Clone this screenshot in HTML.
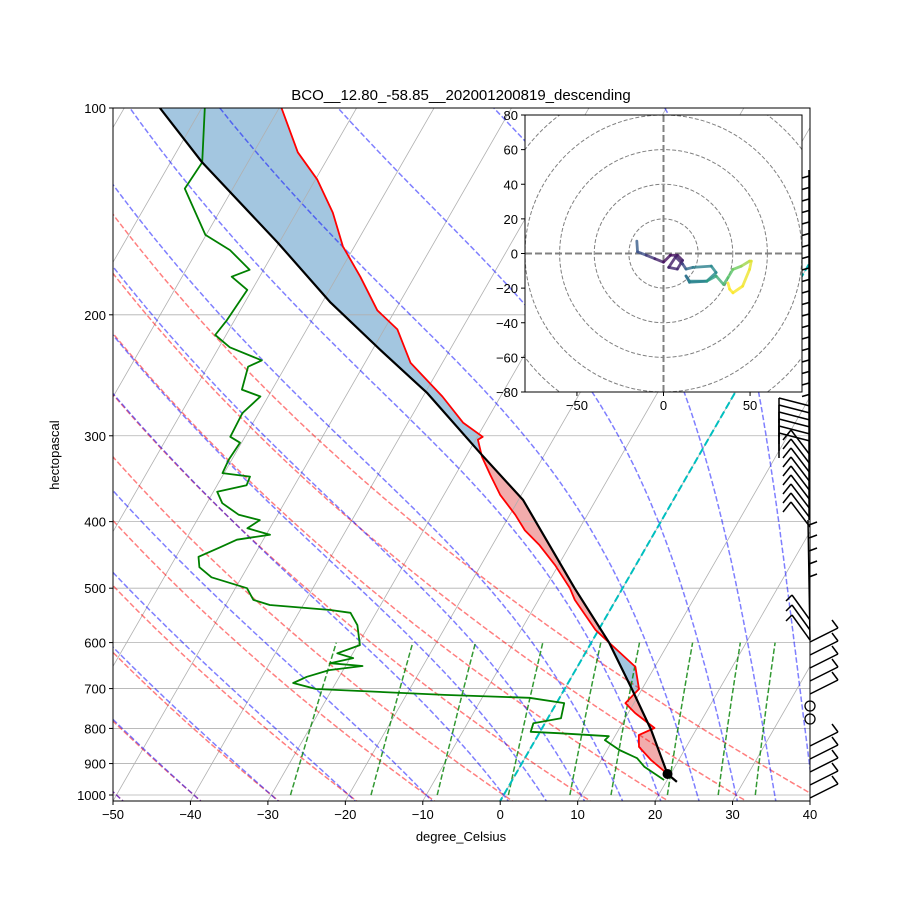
<!DOCTYPE html>
<html><head><meta charset="utf-8"><style>
html,body{margin:0;padding:0;background:#fff;}
svg{display:block;font-family:"Liberation Sans","DejaVu Sans",sans-serif;}
</style></head><body>
<svg id="chart" width="900" height="900" viewBox="0 0 900 900" xmlns="http://www.w3.org/2000/svg">
<defs>
<clipPath id="plotclip"><rect x="113" y="108" width="697" height="693"/></clipPath>
<clipPath id="hodoclip"><rect x="525" y="115" width="277" height="277"/></clipPath>
</defs>
<rect x="0" y="0" width="900" height="900" fill="#fff"/>
<g id="plot" clip-path="url(#plotclip)"></g>
<g id="barbs"></g>
<g id="hodo"></g>
<g id="axes"></g>
<text x="461" y="100" text-anchor="middle" font-size="15">BCO__12.80_-58.85__202001200819_descending</text>
<text x="461" y="841" text-anchor="middle" font-size="13">degree_Celsius</text>
<text x="59" y="455" text-anchor="middle" font-size="13" transform="rotate(-90 59 455)">hectopascal</text>
</svg>
<script>
// ---- data ----
const tempP = [100,116,127,142,159,176,197,210,235,263,287,301,304,322,342,366,391,412,433,463,500,520,575,600,651,701,735,760,799,818,851,889,932];
const tempT = [-79.7,-74.3,-69.8,-65.3,-61.5,-57.0,-52.3,-48.3,-44.1,-37.5,-32.9,-29.3,-29.7,-27.9,-25.5,-22.7,-19.3,-16.9,-13.9,-10.4,-6.8,-5.3,-0.4,2.3,7.5,9.6,8.9,10.9,14.5,13.0,13.9,16.4,19.6];
const dewP = [100,120,131,153,161,172,176,184,204,214,223,233,238,257,263,278,301,307,325,340,344,354,362,376,391,398,409,418,425,436,450,466,482,500,520,529,538,543,566,605,622,632,643,649,658,673,687,701,715,722,735,773,786,809,813,821,832,860,884,910,951];
const dewT = [-89.6,-85.9,-86.2,-80.1,-75.8,-71.8,-73.6,-70.6,-71.0,-71.4,-68.6,-63.5,-64.8,-63.9,-61.0,-62.1,-61.9,-60.2,-60.4,-60.2,-56.4,-56.2,-59.5,-58.0,-55.0,-51.9,-52.9,-49.5,-53.4,-55.0,-57.1,-56.2,-53.9,-48.5,-46.8,-44.3,-36.1,-33.3,-31.5,-29.7,-32.0,-29.6,-32.2,-27.8,-31.8,-34.2,-35.5,-32.1,-15.1,-3.9,1.0,1.7,-1.5,-1.2,2.5,9.2,9.0,11.6,14.5,16.1,19.6];
const parcelP = [100,120,157,192,227,260,318,372,500,600,703,804,932,957];
const parcelT = [-95.4,-85.9,-70.2,-58.9,-48.4,-39.7,-28.4,-19.4,-6.2,2.3,8.8,14.2,19.6,21.4];
const hodoU = [-15.4,-15,-10,-5,0,4,8,11,8,3,7,11,13,17,27.6,30.4,25,15,13,15,25,30.4,34.7,37.2,40.1,44.9,49.7,50.7,49.7,45.7,40.1,38.2,37.2];
const hodoV = [7.1,1,-1,-3,-5,-1,-1,-4,-9,-8,-2,-6,-9,-8,-7.3,-11,-16,-16.6,-13,-16,-16,-13,-17.9,-14,-9.2,-7.3,-4.4,-4.4,-9.2,-18.9,-22.7,-20.6,-17];
const hodoC = [.3,.28,.2,.12,.05,.02,.05,.08,.12,.1,.06,.15,.3,.4,.45,.48,.45,.4,.35,.4,.5,.6,.65,.7,.75,.8,.9,.95,.97,.98,1,1,1];
const xTicks = [-50,-40,-30,-20,-10,0,10,20,30,40];
const yTicks = [100,200,300,400,500,600,700,800,900,1000];
const hodoTicksY = [80,60,40,20,0,-20,-40,-60,-80];
const hodoTicksX = [-50,0,50];

// ---- scales ----
const NS='http://www.w3.org/2000/svg';
const X0=113,X1=810,YT=108,YB=801,K=0.575,PX=697/90;
function yP(p){return 108+687*Math.log10(p/100);}
function xTP(t,p){return X0+(t+50)*PX+(YB-yP(p))*K;}
function el(tag,attrs,parent){const e=document.createElementNS(NS,tag);for(const k in attrs)e.setAttribute(k,attrs[k]);parent.appendChild(e);return e;}
function ptsStr(arr){return arr.map(a=>a[0].toFixed(1)+','+a[1].toFixed(1)).join(' ');}
const plot=document.getElementById('plot');
function interp(P,T,p){for(let i=0;i<P.length-1;i++){if(p>=P[i]&&p<=P[i+1]){const a=(Math.log(p)-Math.log(P[i]))/(Math.log(P[i+1])-Math.log(P[i]));return T[i]+a*(T[i+1]-T[i]);}}return p<P[0]?T[0]:T[T.length-1];}

// CAPE/CIN shading (behind reference lines)
{const pTop=Math.max(tempP[0],parcelP[0]),pBot=Math.min(tempP[tempP.length-1],parcelP[parcelP.length-1]);const N=400;
const g=el('g',{},plot);
for(let i=0;i<N;i++){const pa=pTop*Math.pow(pBot/pTop,i/N),pb=pTop*Math.pow(pBot/pTop,(i+1)/N);
const ta=interp(tempP,tempT,pa),tb=interp(tempP,tempT,pb),qa=interp(parcelP,parcelT,pa),qb=interp(parcelP,parcelT,pb);
const d=(qa+qb)-(ta+tb);const col=d>0?'rgb(242,172,172)':'rgb(163,198,224)';
const poly=el('polygon',{points:ptsStr([[xTP(ta,pa),yP(pa)],[xTP(qa,pa),yP(pa)],[xTP(qb,pb),yP(pb)],[xTP(tb,pb),yP(pb)]]),fill:col,stroke:col,'stroke-width':0.6},g);

}}

// grid horizontal
for(const p of yTicks){const l=el('line',{x1:X0,x2:X1,y1:yP(p),y2:yP(p),stroke:'#b0b0b0','stroke-width':0.8},plot);

}
// isotherms
for(let t=-160;t<=40;t+=10){const l=el('line',{x1:xTP(t,1020),y1:yP(1020),x2:xTP(t,95),y2:yP(95),stroke:'#b0b0b0','stroke-width':0.8},plot);

}
// dry adiabats
for(let t0=-50;t0<=40;t0+=10){const th=t0+273.15;const pts=[];for(let p=1030;p>=95;p-=5){pts.push([xTP(th*Math.pow(p/1000,0.2857)-273.15,p),yP(p)]);}
const l=el('polyline',{points:ptsStr(pts),fill:'none',stroke:'rgba(255,0,0,0.5)','stroke-width':1.5,'stroke-dasharray':'5.5,2.4'},plot);

}
// moist adiabats
function es(tc){return 6.112*Math.exp(17.67*tc/(tc+243.5));}
function dTdp(T,p){const tc=T-273.15;const e=es(tc);const rs=0.622*e/(p-e);const Rd=287.04,Cp=1005.7,Lv=2.501e6;
return (Rd*T+Lv*rs)/(p*(Cp+Lv*Lv*rs*0.622/(Rd*T*T)));}
const moist=[-50,-40,-30,-20,-10,0,5,10,15,20,25,30,35,40];
for(const t0 of moist){let T=t0+273.15,p=1000;const up=[[xTP(t0,1000),yP(1000)]];const dp=-5;
while(p>95){const k1=dTdp(T,p),k2=dTdp(T+k1*dp/2,p+dp/2),k3=dTdp(T+k2*dp/2,p+dp/2),k4=dTdp(T+k3*dp,p+dp);T+=dp*(k1+2*k2+2*k3+k4)/6;p+=dp;up.push([xTP(T-273.15,p),yP(p)]);}
T=t0+273.15;p=1000;const down=[];while(p<1030){T+=5*dTdp(T,p);p+=5;down.unshift([xTP(T-273.15,p),yP(p)]);}
const l=el('polyline',{points:ptsStr(down.concat(up)),fill:'none',stroke:'rgba(0,0,255,0.5)','stroke-width':1.5,'stroke-dasharray':'5.5,2.4'},plot);

}
// mixing ratio lines
const mix=[0.0004,0.001,0.002,0.004,0.007,0.01,0.016,0.024,0.032];
for(const w of mix){const pts=[];for(let p=1000;p>=600;p-=20){const e=p*w/(0.622+w);const L=Math.log(e/6.112);pts.push([xTP(243.5*L/(17.67-L),p),yP(p)]);}
const l=el('polyline',{points:ptsStr(pts),fill:'none',stroke:'rgba(0,128,0,0.8)','stroke-width':1.5,'stroke-dasharray':'5.5,2.4'},plot);

}
// zero isotherm
{const l=el('line',{x1:xTP(0,1030),y1:yP(1030),x2:xTP(0,95),y2:yP(95),stroke:'#00bfbf','stroke-width':2,'stroke-dasharray':'7.4,3.2'},plot);

}
// profiles
function profile(P,T,color,w,name){const l=el('polyline',{points:ptsStr(P.map((p,i)=>[xTP(T[i],p),yP(p)])),fill:'none',stroke:color,'stroke-width':w,'stroke-linejoin':'round'},plot);

}
profile(tempP,tempT,'#ff0000',1.8,'temperature-line');
profile(dewP,dewT,'#008000',1.8,'dewpoint-line');
profile(parcelP,parcelT,'#000000',2.2,'parcel-profile-line');
{const n=tempP.length-1;const c=el('circle',{cx:xTP(tempT[n],tempP[n]),cy:yP(tempP[n]),r:5,fill:'#000'},plot);

}

// ---- wind barbs (approximate) ----
const barbs=document.getElementById('barbs');
function bl(x1,y1,x2,y2){const l=el('line',{x1,y1,x2,y2,stroke:'#000','stroke-width':1.5},barbs);

}
bl(809,170,809,520);
for(let y=176;y<395;y+=11.5)bl(809,y,802,y+2);
for(let y=398;y<440;y+=7){bl(810,y+8,779,y);bl(779,y,779,y+25);}
for(let y=440;y<520;y+=9){bl(810,y+15,791,y-10);bl(791,y-10,783,y);}
bl(808,520,810,640);
for(let y=525;y<590;y+=13)bl(809,y,817,y-3);
for(let y=595;y<625;y+=10){bl(810,y+25,792,y);bl(792,y,786,y+6);}
for(let y=632;y<790;y+=13){if(y>695&&y<725)continue;bl(810,y+10,838,y-4);bl(838,y-4,832,y-12);}
for(const cy of [706,719]){const c=el('circle',{cx:810,cy,r:5,fill:'none',stroke:'#000','stroke-width':1.3},barbs);

}

// ---- axes ----
const axes=document.getElementById('axes');
{const r=el('rect',{x:X0,y:YT,width:X1-X0,height:YB-YT,fill:'none',stroke:'#000','stroke-width':1},axes);

}
for(const t of xTicks){const x=X0+(t+50)*PX;el('line',{x1:x,x2:x,y1:YB,y2:YB+4,stroke:'#000'},axes);
const tx=el('text',{x:x,y:YB+18,'text-anchor':'middle','font-size':13},axes);tx.textContent=String(t).replace('-','\u2212');

}
for(const p of yTicks){const y=yP(p);el('line',{x1:X0-4,x2:X0,y1:y,y2:y,stroke:'#000'},axes);
const tx=el('text',{x:X0-7,y:y+5,'text-anchor':'end','font-size':13},axes);tx.textContent=p;

}

// ---- hodograph ----
const hodo=document.getElementById('hodo');
const HX0=525,HY0=115,HS=277,HC=HX0+HS/2,HCY=HY0+HS/2,HK=HS/160;
el('rect',{x:HX0,y:HY0,width:HS,height:HS,fill:'#fff'},hodo);
const hg=el('g',{'clip-path':'url(#hodoclip)'},hodo);
for(let r=20;r<=120;r+=20){const c=el('circle',{cx:HC,cy:HCY,r:r*HK,fill:'none',stroke:'#808080','stroke-width':1,'stroke-dasharray':'4,2'},hg);

}
el('line',{x1:HX0,x2:HX0+HS,y1:HCY,y2:HCY,stroke:'#808080','stroke-width':2,'stroke-dasharray':'7,3'},hg);
el('line',{x1:HC,x2:HC,y1:HY0,y2:HY0+HS,stroke:'#808080','stroke-width':2,'stroke-dasharray':'7,3'},hg);
function viridis(t){const s=[[68,1,84],[59,82,139],[33,145,140],[94,201,98],[253,231,37]];const f=Math.max(0,Math.min(1,t))*4;const i=Math.min(3,Math.floor(f));const a=f-i;
return 'rgb('+s[i].map((v,j)=>Math.round(v+a*(s[i+1][j]-v))).join(',')+')';}
for(let i=0;i<hodoU.length-1;i++){const s=el('line',{x1:HC+hodoU[i]*HK,y1:HCY-hodoV[i]*HK,x2:HC+hodoU[i+1]*HK,y2:HCY-hodoV[i+1]*HK,stroke:viridis((hodoC[i]+hodoC[i+1])/2),'stroke-width':2.8,'stroke-linecap':'round','stroke-opacity':0.8},hg);

}
{const r=el('rect',{x:HX0,y:HY0,width:HS,height:HS,fill:'none',stroke:'#000','stroke-width':1},hodo);

}
for(const v of hodoTicksY){const y=HCY-v*HK;el('line',{x1:HX0-4,x2:HX0,y1:y,y2:y,stroke:'#000'},hodo);
const tx=el('text',{x:HX0-7,y:y+5,'text-anchor':'end','font-size':13},hodo);tx.textContent=String(v).replace('-','\u2212');

}
for(const u of hodoTicksX){const x=HC+u*HK;el('line',{x1:x,x2:x,y1:HY0+HS,y2:HY0+HS+4,stroke:'#000'},hodo);
const tx=el('text',{x:x,y:HY0+HS+18,'text-anchor':'middle','font-size':13},hodo);tx.textContent=String(u).replace('-','\u2212');

}
</script>
</body></html>
